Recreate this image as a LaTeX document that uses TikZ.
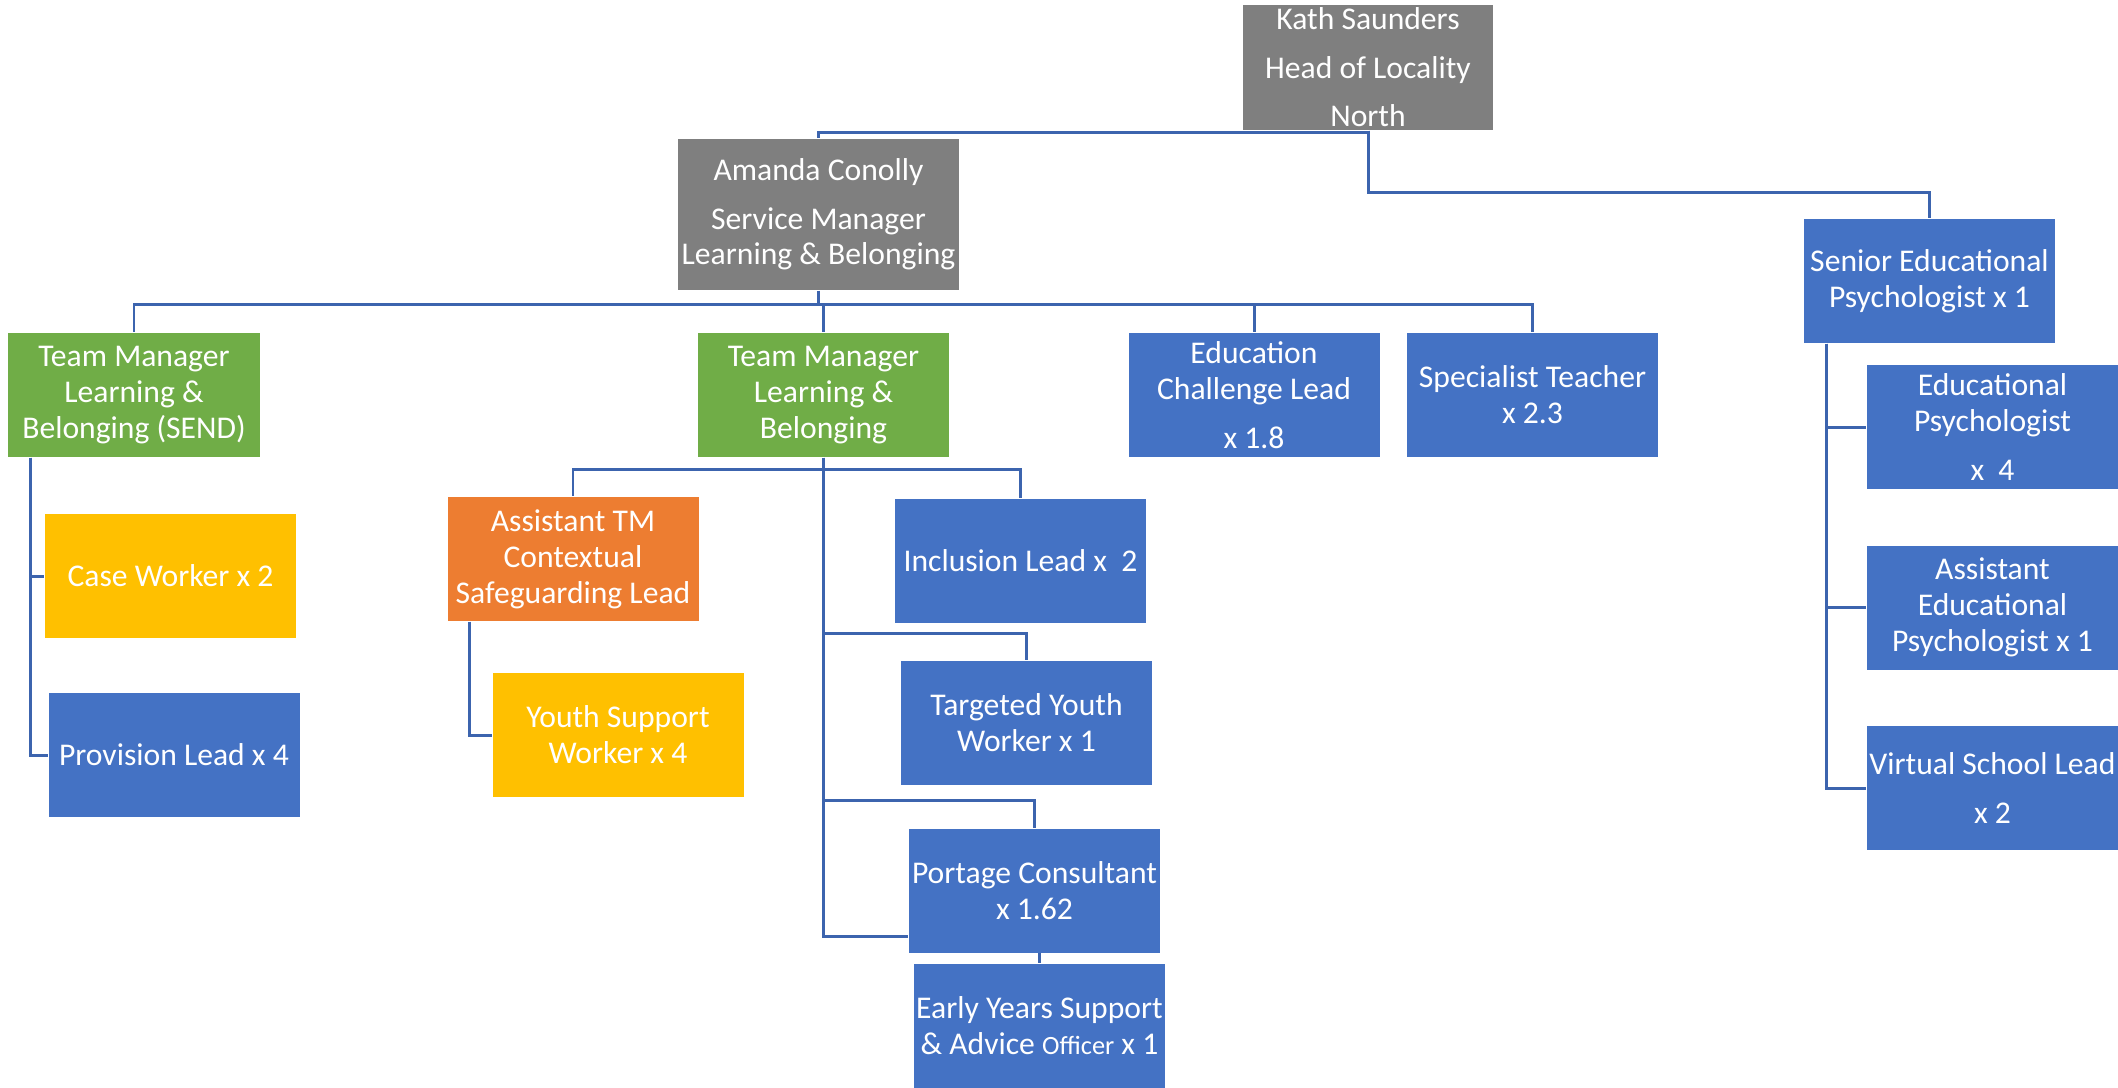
\documentclass[tikz,border=0pt]{standalone}
\usepackage{fontspec}
\setmainfont{Carlito}
\definecolor{boxgrey}{HTML}{7F7F7F}
\definecolor{boxblue}{HTML}{4472C4}
\definecolor{boxgreen}{HTML}{70AD47}
\definecolor{boxorange}{HTML}{ED7D31}
\definecolor{boxyellow}{HTML}{FFC000}
\definecolor{linkblue}{HTML}{3C64AE}

\begin{document}
\begin{tikzpicture}[
    box/.style={minimum width=2.51cm, minimum height=1.24cm, inner sep=0pt, align=center,
        text=white, font=\fontsize{9}{10.2}\selectfont},
    greybox/.style={box, fill=boxgrey},
    bluebox/.style={box, fill=boxblue},
    greenbox/.style={box, fill=boxgreen},
    orangebox/.style={box, fill=boxorange},
    yellowbox/.style={box, fill=boxyellow},
    link/.style={draw=linkblue, line width=0.85pt}]
\useasboundingbox (0,0) rectangle (21.18,-10.87);

\node[greybox, minimum width=2.50cm, minimum height=1.25cm] (kath) at (13.68,-0.675) {Kath Saunders\\[3.6pt] Head of Locality\\[3.6pt] North};
\node[greybox, minimum width=2.81cm, minimum height=1.51cm] (amanda) at (8.185,-2.145) {Amanda Conolly\\[3.6pt] Service Manager\\ Learning \& Belonging};

\node[greenbox] (tmsend) at (1.34,-3.95) {Team Manager\\ Learning \&\\ Belonging (SEND)};
\node[greenbox] (tmlb) at (8.235,-3.95) {Team Manager\\ Learning \&\\ Belonging};
\node[bluebox] (ecl) at (12.54,-3.95) {Education\\ Challenge Lead\\[3.6pt] x 1.8};
\node[bluebox] (spt) at (15.325,-3.95) {Specialist Teacher\\ x 2.3};
\node[bluebox] (sep) at (19.295,-2.81) {Senior Educational\\ Psychologist x 1};

\node[yellowbox] (casew) at (1.705,-5.76) {Case Worker x 2};
\node[bluebox] (provl) at (1.74,-7.55) {Provision Lead x 4};

\node[orangebox] (asstm) at (5.73,-5.59) {Assistant TM\\ Contextual\\ Safeguarding Lead};
\node[yellowbox] (ysw) at (6.18,-7.35) {Youth Support\\ Worker x 4};

\node[bluebox] (incl) at (10.205,-5.605) {Inclusion Lead x\ \ 2};
\node[bluebox] (tyw) at (10.265,-7.23) {Targeted Youth\\ Worker x 1};
\node[bluebox] (port) at (10.345,-8.905) {Portage Consultant\\ x 1.62};
\node[bluebox] (eyso) at (10.395,-10.26) {Early Years Support\\ \& Advice {\fontsize{7.5}{10.2}\selectfont Officer} x 1};

\node[bluebox] (edp) at (19.925,-4.27) {Educational\\ Psychologist\\[3.6pt] x\ \ 4};
\node[bluebox] (aep) at (19.925,-6.075) {Assistant\\ Educational\\ Psychologist x 1};
\node[bluebox] (vsl) at (19.925,-7.88) {Virtual School Lead\\[3.6pt] x 2};

\draw[link] (kath.south) -- ++(0,-0.02) -| (amanda.north);
\draw[link] (kath.south) -- ++(0,-0.62) -| (sep.north);

\draw[link] (amanda.south) -- ++(0,-0.14) coordinate (abus);
\foreach \n in {tmsend,tmlb,ecl,spt}
    \draw[link] (abus) -| (\n.north);

\draw[link] ([xshift=0.23cm]tmsend.south west) |- (casew.west);
\draw[link] ([xshift=0.23cm]tmsend.south west) |- (provl.west);

\draw[link] (tmlb.south) -- ++(0,-0.12) coordinate (tbus);
\draw[link] (tbus) -| (asstm.north);
\draw[link] (tbus) -| (incl.north);
\draw[link] (tmlb.south) |- ([yshift=-0.455cm]port.west);
\draw[link] ([yshift=-1.76cm]tmlb.south) -| (tyw.north);
\draw[link] ([yshift=-3.43cm]tmlb.south) -| (port.north);
\draw[link] (port.south -| eyso.north) -- (eyso.north);

\draw[link] ([xshift=0.23cm]asstm.south west) |- (ysw.west);

\draw[link] ([xshift=0.23cm]sep.south west) |- (edp.west);
\draw[link] ([xshift=0.23cm]sep.south west) |- (aep.west);
\draw[link] ([xshift=0.23cm]sep.south west) |- (vsl.west);
\end{tikzpicture}
\end{document}
